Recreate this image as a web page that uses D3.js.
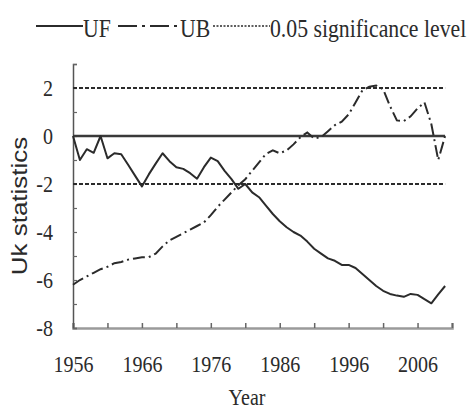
<!DOCTYPE html>
<html><head><meta charset="utf-8">
<script src="https://cdn.jsdelivr.net/npm/d3@7"></script>
<style>body{margin:0;background:#fff}</style>
</head><body><svg id="c" width="468" height="412"></svg>
<script>
const years = [1956,1957,1958,1959,1960,1961,1962,1963,1964,1965,1966,1967,1968,1969,1970,1971,1972,1973,1974,1975,1976,1977,1978,1979,1980,1981,1982,1983,1984,1985,1986,1987,1988,1989,1990,1991,1992,1993,1994,1995,1996,1997,1998,1999,2000,2001,2002,2003,2004,2005,2006,2007,2008,2009,2010];
const ufValues = [0,-1.0,-0.55,-0.7,0,-0.93,-0.72,-0.76,-1.2,-1.65,-2.1,-1.6,-1.15,-0.72,-1.05,-1.3,-1.37,-1.55,-1.78,-1.3,-0.9,-1.05,-1.45,-1.8,-2.2,-2.0,-2.35,-2.55,-2.9,-3.25,-3.55,-3.8,-4.0,-4.15,-4.4,-4.7,-4.9,-5.1,-5.2,-5.37,-5.37,-5.5,-5.75,-6.0,-6.25,-6.45,-6.58,-6.65,-6.7,-6.58,-6.62,-6.8,-6.97,-6.6,-6.25];
const ubValues = [-6.2,-6.0,-5.85,-5.7,-5.55,-5.45,-5.3,-5.25,-5.15,-5.1,-5.05,-5.05,-4.9,-4.6,-4.35,-4.2,-4.05,-3.9,-3.75,-3.6,-3.3,-2.95,-2.65,-2.35,-2.05,-1.8,-1.45,-1.1,-0.75,-0.6,-0.72,-0.6,-0.35,-0.05,0.15,-0.1,-0.05,0.2,0.45,0.6,0.9,1.4,1.9,2.05,2.1,1.95,1.25,0.65,0.62,0.82,1.15,1.4,0.5,-1.0,0];
const sigLevels = [2, -2];
const zeroLevel = [0];
const xTicks = [1956,1961,1966,1971,1976,1981,1986,1991,1996,2001,2006,2011];
const xTickLabels = [1956,1966,1976,1986,1996,2006];
const yTicks = [-8,-7,-6,-5,-4,-3,-2,-1,0,1,2,3];
const yTickLabels = [-8,-6,-4,-2,0,2];
const legendLabels = ["UF","UB","0.05 significance level"];
const xTitle = "Year", yTitle = "Uk statistics";

const svg = d3.select("#c");
const ink = "#2b2b2b";
const x = d3.scaleLinear().domain([1956, 2011]).range([73, 452]);
const y = d3.scaleLinear().domain([-8, 3]).range([328, 64]);
const serif = "'Liberation Serif','Times New Roman',serif";
const sx = 0.87;

// axes
const xAxis = d3.axisBottom(x).tickValues(xTicks).tickSize(-5)
  .tickFormat(d => xTickLabels.includes(d) ? String(d) : "");
const gx = svg.append("g").attr("transform", `translate(0,${y(-8)})`).call(xAxis);
gx.select(".domain").attr("stroke", "#9a9a9a").attr("stroke-width", 2.5);
gx.selectAll(".tick line").attr("stroke", "#666").attr("stroke-width", 1.5);
gx.selectAll(".tick text").attr("y", 44).attr("dy", 0)
  .attr("transform", `scale(${sx},1)`)
  .attr("font-family", serif).attr("font-size", 23).attr("fill", ink);

const yAxis = d3.axisLeft(y).tickValues(yTicks).tickSize(-4)
  .tickFormat(d => yTickLabels.includes(d) ? String(d) : "");
const gy = svg.append("g").attr("transform", `translate(${x(1956)},0)`).call(yAxis);
gy.select(".domain").attr("stroke", "#555").attr("stroke-width", 1.5);
gy.selectAll(".tick line").attr("stroke", "#666").attr("stroke-width", 1.2);
gy.selectAll(".tick text").attr("x", -20 / sx).attr("dy", "0.33em")
  .attr("transform", `scale(${sx},1)`)
  .attr("font-family", serif).attr("font-size", 23).attr("fill", ink);

// reference lines
svg.selectAll(".sig").data(sigLevels).join("line")
  .attr("x1", x(1956)).attr("x2", x(2010))
  .attr("y1", d => y(d)).attr("y2", d => y(d))
  .attr("stroke", ink).attr("stroke-width", 2.2).attr("stroke-dasharray", "4,2");
svg.selectAll(".zero").data(zeroLevel).join("line")
  .attr("x1", x(1956)).attr("x2", x(2010))
  .attr("y1", d => y(d)).attr("y2", d => y(d))
  .attr("stroke", "#3a3a3a").attr("stroke-width", 2.6);

// series
const line = d3.line().x((d, i) => x(years[i])).y(d => y(d));
svg.append("path").datum(ubValues).attr("d", line).attr("fill", "none")
  .attr("stroke", ink).attr("stroke-width", 2).attr("stroke-dasharray", "12,4,2,4");
svg.append("path").datum(ufValues).attr("d", line).attr("fill", "none")
  .attr("stroke", ink).attr("stroke-width", 2).attr("stroke-linejoin", "round");

// titles
svg.append("text").attr("transform", `translate(247,405) scale(${sx},1)`)
  .attr("text-anchor", "middle").attr("font-family", serif).attr("font-size", 23)
  .attr("fill", ink).text(xTitle);
svg.append("text").attr("transform", "translate(27,206) rotate(-90) scale(1,0.85)")
  .attr("text-anchor", "middle").attr("font-family", "'Liberation Sans',Arial,sans-serif")
  .attr("font-size", 26).attr("fill", ink).text(yTitle);

// legend
const legendItems = [
  {x1: 36, x2: 83, dash: null, w: 2, tx: 83},
  {x1: 118, x2: 177, dash: "19,5,3,5", w: 2, tx: 180},
  {x1: 213, x2: 270, dash: "2,1.5", w: 1.5, tx: 270}
];
const lg = svg.append("g");
legendItems.forEach((it, i) => {
  lg.append("line").attr("x1", it.x1).attr("x2", it.x2).attr("y1", 26).attr("y2", 26)
    .attr("stroke", ink).attr("stroke-width", it.w).attr("stroke-dasharray", it.dash);
  lg.append("text").attr("transform", `translate(${it.tx},37) scale(${sx},1)`)
    .attr("font-family", serif).attr("font-size", 25).attr("fill", ink).text(legendLabels[i]);
});
</script></body></html>
